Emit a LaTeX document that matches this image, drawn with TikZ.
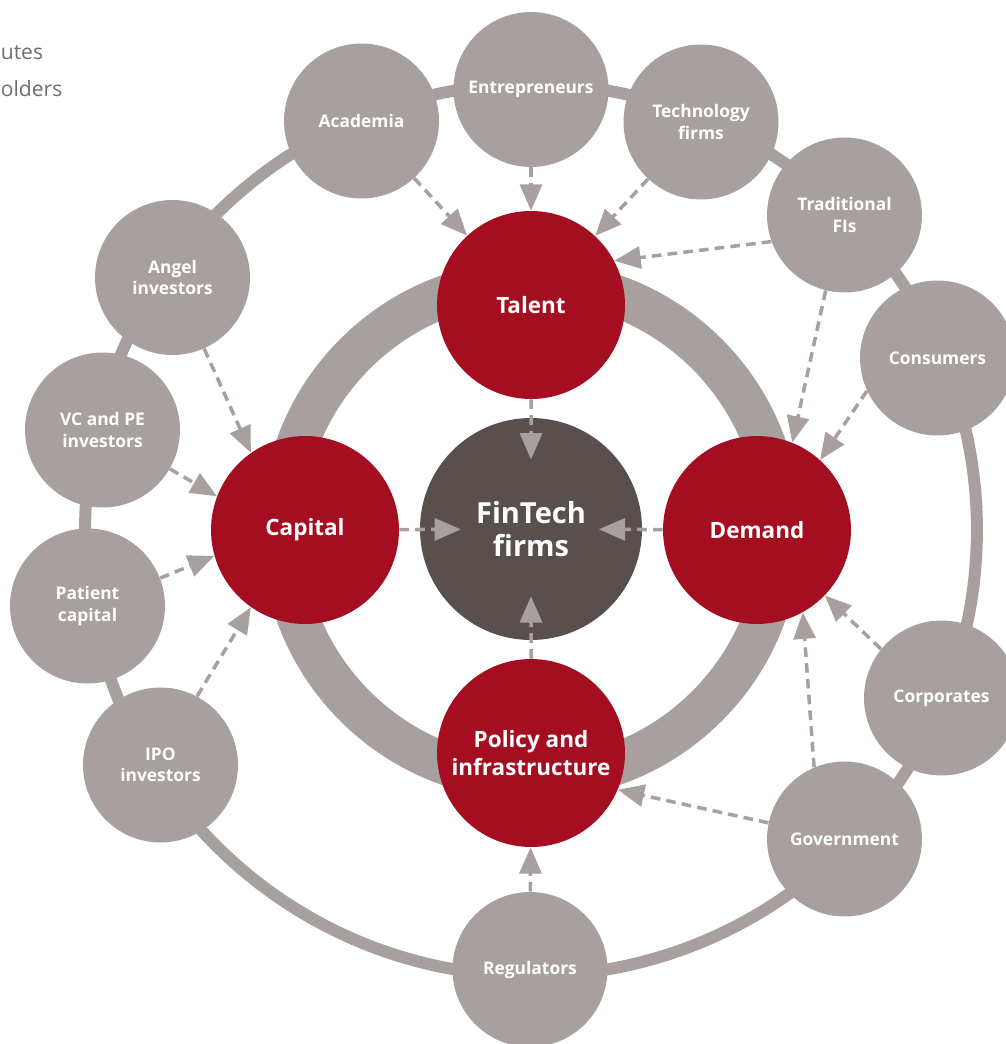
\documentclass[tikz,border=0pt]{standalone}
\usepackage{fontspec}
\setmainfont{Open Sans}
\usetikzlibrary{arrows.meta,calc}
\definecolor{ringgray}{HTML}{A8A09E}
\definecolor{hubred}{HTML}{A50D21}
\definecolor{coredark}{HTML}{594F4C}
\definecolor{notegray}{HTML}{6D6E70}

\begin{document}
\begin{tikzpicture}[x=0.02cm,y=-0.02cm,
  actor/.style={circle,fill=ringgray,minimum size=3.1cm,inner sep=0pt,text=white,
    font=\bfseries\fontsize{9.9}{12}\selectfont,align=center},
  pillar/.style={circle,fill=hubred,minimum size=3.76cm,inner sep=0pt,text=white,
    font=\bfseries\fontsize{12.8}{16}\selectfont,align=center},
  core/.style={circle,fill=coredark,minimum size=4.44cm,inner sep=0pt,text=white,
    font=\bfseries\fontsize{16.5}{19}\selectfont,align=center},
  feed/.style={ringgray,line width=2pt,dash pattern=on 5.5pt off 3.5pt,
    -{Triangle[length=15pt,width=12.5pt]}},
  note/.style={anchor=base west,text=notegray,font=\fontsize{12}{14}\selectfont,inner sep=0pt},
]
\useasboundingbox (0,0) rectangle (1006,1044);

% legend fragments
\node[note] (noteA) at (0.5,60) {utes};
\node[note] (noteB) at (0.5,97) {olders};

% rings
\draw[ringgray,line width=0.24cm] (531,530) circle[radius=8.92cm];
\draw[ringgray,line width=0.84cm] (531,530) circle[radius=4.98cm];

% core and pillars
\node[core] (fin) at (531,529) {FinTech\\firms};
\node[pillar] (talent) at (531,305) {Talent};
\node[pillar] (capital) at (305,530) {Capital};
\node[pillar] (demand) at (757,530) {Demand};
\node[pillar] (policy) at (531,753) {Policy and\\infrastructure};

% stakeholders
\node[actor] (academia) at (361.5,121) {Academia};
\node[actor] (entre) at (531,89.5) {Entrepreneurs};
\node[actor] (tech) at (701,122) {Technology\\firms};
\node[actor] (trad) at (844.5,215) {Traditional\\FIs};
\node[actor] (cons) at (937.5,358) {Consumers};
\node[actor] (corp) at (941.5,698) {Corporates};
\node[actor] (gov) at (844.5,839) {Government};
\node[actor] (reg) at (530,969.5) {Regulators};
\node[actor] (ipo) at (160.5,765) {IPO\\investors};
\node[actor] (patient) at (87.5,606) {Patient\\capital};
\node[actor] (vc) at (102.5,430) {VC and PE\\investors};
\node[actor] (angel) at (172.5,277.5) {Angel\\investors};

% flows into the pillars
\draw[feed] (academia) -- (talent);
\draw[feed] (entre) -- (talent);
\draw[feed] (tech) -- (talent);
\draw[feed] (trad.200) -- (talent.28);
\draw[feed] (trad.256) -- (demand.68);
\draw[feed] (cons.205) -- (demand.48);
\draw[feed] (corp.141) -- (demand.316);
\draw[feed] (gov.113) -- (demand.-61);
\draw[feed] (gov.168) -- (policy.-23);
\draw[feed] (reg) -- (policy);
\draw[feed] (ipo.62) -- (capital.235);
\draw[feed] (patient.21) -- (capital.196);
\draw[feed] (vc.-30) -- (capital.159);
\draw[feed] (angel.-66) -- (capital.125);

% flows into the core
\coordinate (finN) at ($(fin)!0.31!(talent)$);
\coordinate (finW) at ($(fin)!0.31!(capital)$);
\coordinate (finE) at ($(fin)!0.30!(demand)$);
\coordinate (finS) at ($(fin)!0.30!(policy)$);
\draw[feed] (talent) -- (finN);
\draw[feed] (capital) -- (finW);
\draw[feed] (demand) -- (finE);
\draw[feed] (policy) -- (finS);
\end{tikzpicture}
\end{document}
